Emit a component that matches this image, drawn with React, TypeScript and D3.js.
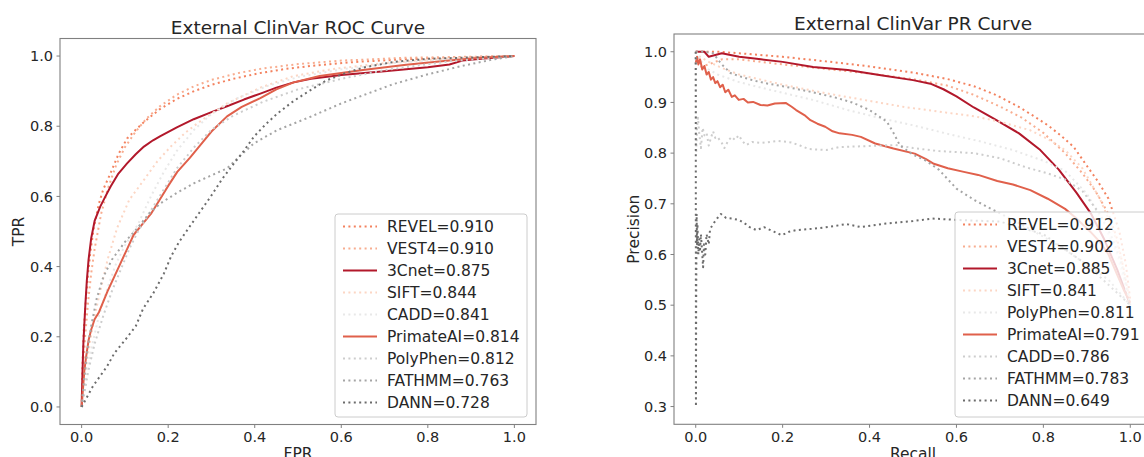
import React from "react";
import * as d3 from "d3";

type Pt = [number, number];

// ---------- ROC data (FPR, TPR) ----------
const rocREVEL: Pt[] = [[0,0],[0.002,0.12],[0.005,0.22],[0.01,0.31],[0.015,0.38],[0.02,0.44],[0.028,0.51],[0.04,0.58],[0.05,0.62],[0.067,0.667],[0.085,0.72],[0.105,0.765],[0.125,0.79],[0.144,0.812],[0.18,0.848],[0.22,0.878],[0.26,0.9],[0.3,0.918],[0.35,0.935],[0.41,0.951],[0.47,0.963],[0.53,0.972],[0.63,0.983],[0.75,0.991],[0.9,0.997],[1,1]];
const rocVEST4: Pt[] = [[0,0],[0.003,0.1],[0.008,0.2],[0.015,0.3],[0.022,0.38],[0.03,0.45],[0.045,0.55],[0.06,0.62],[0.08,0.69],[0.1,0.74],[0.125,0.785],[0.15,0.822],[0.18,0.856],[0.22,0.89],[0.26,0.914],[0.3,0.932],[0.36,0.951],[0.42,0.965],[0.5,0.977],[0.6,0.987],[0.75,0.995],[1,1]];
const roc3Cnet: Pt[] = [[0,0],[0.002,0.1],[0.004,0.18],[0.006,0.23],[0.009,0.3],[0.012,0.36],[0.016,0.42],[0.022,0.48],[0.03,0.53],[0.043,0.571],[0.055,0.6],[0.067,0.628],[0.085,0.665],[0.105,0.694],[0.125,0.72],[0.144,0.742],[0.165,0.76],[0.182,0.772],[0.22,0.797],[0.259,0.82],[0.3,0.84],[0.336,0.857],[0.375,0.876],[0.413,0.893],[0.45,0.91],[0.49,0.925],[0.53,0.935],[0.6,0.946],[0.7,0.957],[0.8,0.968],[0.85,0.976],[0.88,0.987],[0.93,0.993],[1,1]];
const rocSIFT: Pt[] = [[0,0],[0.005,0.06],[0.01,0.11],[0.02,0.19],[0.03,0.26],[0.045,0.34],[0.06,0.42],[0.082,0.51],[0.11,0.59],[0.144,0.647],[0.175,0.7],[0.206,0.742],[0.24,0.782],[0.275,0.815],[0.336,0.865],[0.413,0.91],[0.49,0.943],[0.58,0.963],[0.7,0.98],[0.85,0.993],[1,1]];
const rocCADD: Pt[] = [[0,0],[0.005,0.04],[0.012,0.1],[0.025,0.18],[0.04,0.26],[0.06,0.34],[0.08,0.41],[0.1,0.46],[0.13,0.52],[0.16,0.6],[0.19,0.67],[0.22,0.73],[0.26,0.79],[0.3,0.835],[0.36,0.88],[0.43,0.915],[0.5,0.94],[0.6,0.962],[0.72,0.98],[0.85,0.992],[1,1]];
const rocPrimateAI: Pt[] = [[0,0],[0.003,0.05],[0.006,0.1],[0.01,0.14],[0.016,0.19],[0.022,0.22],[0.03,0.25],[0.04,0.27],[0.05,0.3],[0.06,0.33],[0.075,0.37],[0.09,0.41],[0.105,0.45],[0.12,0.49],[0.14,0.52],[0.16,0.55],[0.18,0.59],[0.2,0.63],[0.221,0.67],[0.25,0.71],[0.28,0.755],[0.3,0.785],[0.336,0.828],[0.37,0.855],[0.413,0.88],[0.45,0.905],[0.49,0.925],[0.55,0.943],[0.65,0.96],[0.75,0.975],[0.85,0.987],[0.92,0.995],[1,1]];
const rocPolyPhen: Pt[] = [[0,0],[0.005,0.03],[0.015,0.1],[0.03,0.18],[0.05,0.26],[0.07,0.33],[0.09,0.39],[0.11,0.45],[0.13,0.5],[0.16,0.56],[0.19,0.62],[0.22,0.68],[0.26,0.74],[0.3,0.79],[0.35,0.83],[0.42,0.87],[0.5,0.905],[0.6,0.935],[0.7,0.96],[0.85,0.985],[1,1]];
const rocFATHMM: Pt[] = [[0,0],[0.005,0.07],[0.012,0.15],[0.022,0.23],[0.035,0.31],[0.05,0.37],[0.07,0.42],[0.1,0.47],[0.129,0.51],[0.155,0.55],[0.182,0.58],[0.22,0.61],[0.259,0.637],[0.3,0.66],[0.336,0.68],[0.37,0.72],[0.398,0.751],[0.452,0.789],[0.529,0.827],[0.6,0.865],[0.65,0.888],[0.72,0.92],[0.8,0.948],[0.88,0.972],[0.95,0.99],[1,1]];
const rocDANN: Pt[] = [[0,0],[0.026,0.059],[0.059,0.116],[0.076,0.154],[0.1,0.19],[0.125,0.23],[0.142,0.28],[0.166,0.325],[0.19,0.38],[0.207,0.43],[0.225,0.47],[0.244,0.504],[0.27,0.55],[0.298,0.599],[0.325,0.65],[0.352,0.694],[0.375,0.73],[0.398,0.77],[0.425,0.805],[0.452,0.836],[0.49,0.872],[0.529,0.903],[0.565,0.93],[0.606,0.95],[0.65,0.967],[0.72,0.983],[0.8,0.992],[1,1]];

const rocNames = ["REVEL", "VEST4", "3Cnet", "SIFT", "CADD", "PrimateAI", "PolyPhen", "FATHMM", "DANN"];
const rocAUC = ["0.910", "0.910", "0.875", "0.844", "0.841", "0.814", "0.812", "0.763", "0.728"];
const rocSeries = [rocREVEL, rocVEST4, roc3Cnet, rocSIFT, rocCADD, rocPrimateAI, rocPolyPhen, rocFATHMM, rocDANN];

// ---------- PR data (Recall, Precision) ----------
const prREVEL: Pt[] = [[0,1],[0.05,1],[0.1,0.997],[0.2,0.99],[0.3,0.981],[0.4,0.971],[0.5,0.959],[0.58,0.946],[0.64,0.932],[0.69,0.915],[0.74,0.893],[0.78,0.872],[0.81,0.855],[0.84,0.835],[0.87,0.812],[0.9,0.775],[0.925,0.745],[0.95,0.71],[0.975,0.645],[0.99,0.58],[1,0.51]];
const prVEST4: Pt[] = [[0,1],[0.01,0.97],[0.03,0.975],[0.06,0.985],[0.1,0.985],[0.2,0.975],[0.3,0.966],[0.4,0.957],[0.5,0.946],[0.58,0.933],[0.64,0.915],[0.7,0.892],[0.75,0.87],[0.8,0.84],[0.85,0.8],[0.89,0.76],[0.92,0.725],[0.95,0.68],[0.97,0.63],[0.985,0.57],[1,0.5]];
const pr3Cnet: Pt[] = [[0,1],[0.02,1],[0.03,0.99],[0.06,0.997],[0.1,0.99],[0.15,0.985],[0.2,0.98],[0.27,0.97],[0.35,0.964],[0.43,0.953],[0.5,0.944],[0.54,0.937],[0.57,0.926],[0.6,0.912],[0.64,0.89],[0.686,0.868],[0.744,0.839],[0.793,0.806],[0.835,0.768],[0.876,0.722],[0.91,0.68],[0.94,0.63],[0.97,0.57],[1,0.5]];
const prSIFT: Pt[] = [[0,1],[0.01,0.99],[0.03,0.98],[0.06,0.968],[0.1,0.955],[0.15,0.945],[0.2,0.935],[0.3,0.918],[0.4,0.903],[0.48,0.891],[0.56,0.882],[0.645,0.872],[0.7,0.862],[0.77,0.845],[0.81,0.828],[0.85,0.806],[0.89,0.77],[0.93,0.71],[0.96,0.65],[0.98,0.59],[1,0.5]];
const prPolyPhen: Pt[] = [[0,1],[0.02,0.97],[0.05,0.955],[0.1,0.94],[0.17,0.925],[0.27,0.905],[0.35,0.885],[0.43,0.868],[0.5,0.855],[0.58,0.838],[0.66,0.822],[0.73,0.806],[0.8,0.785],[0.85,0.765],[0.9,0.72],[0.94,0.66],[0.97,0.6],[1,0.5]];
const prPrimateAI: Pt[] = [[0,0.977],[0.003,0.99],[0.006,0.975],[0.01,0.985],[0.015,0.965],[0.02,0.972],[0.025,0.955],[0.03,0.96],[0.035,0.945],[0.04,0.95],[0.045,0.938],[0.05,0.942],[0.056,0.93],[0.062,0.935],[0.068,0.92],[0.075,0.925],[0.083,0.911],[0.09,0.914],[0.099,0.905],[0.11,0.907],[0.12,0.9],[0.132,0.901],[0.149,0.895],[0.165,0.894],[0.182,0.898],[0.207,0.899],[0.22,0.892],[0.231,0.885],[0.25,0.875],[0.264,0.865],[0.28,0.858],[0.298,0.852],[0.315,0.843],[0.331,0.839],[0.36,0.836],[0.38,0.832],[0.413,0.819],[0.455,0.809],[0.504,0.799],[0.53,0.788],[0.548,0.779],[0.58,0.77],[0.617,0.763],[0.65,0.757],[0.694,0.745],[0.73,0.738],[0.77,0.727],[0.81,0.71],[0.85,0.69],[0.875,0.672],[0.908,0.645],[0.93,0.625],[0.95,0.6],[0.97,0.56],[0.985,0.53],[1,0.505]];
const prCADD: Pt[] = [[0,1],[0.001,0.8],[0.003,0.85],[0.005,0.87],[0.008,0.84],[0.012,0.81],[0.016,0.85],[0.02,0.835],[0.025,0.84],[0.03,0.815],[0.035,0.83],[0.04,0.843],[0.045,0.83],[0.05,0.832],[0.06,0.82],[0.066,0.81],[0.075,0.825],[0.083,0.832],[0.09,0.826],[0.099,0.835],[0.108,0.823],[0.116,0.816],[0.13,0.822],[0.15,0.82],[0.19,0.824],[0.22,0.821],[0.24,0.815],[0.26,0.808],[0.3,0.806],[0.33,0.812],[0.4,0.814],[0.46,0.816],[0.5,0.81],[0.56,0.804],[0.64,0.8],[0.7,0.79],[0.76,0.772],[0.81,0.76],[0.85,0.748],[0.89,0.725],[0.93,0.68],[0.96,0.63],[0.98,0.58],[1,0.5]];
const prFATHMM: Pt[] = [[0,1],[0.02,1],[0.04,0.997],[0.06,0.975],[0.08,0.958],[0.1,0.952],[0.13,0.944],[0.16,0.938],[0.2,0.932],[0.27,0.92],[0.32,0.91],[0.36,0.9],[0.4,0.885],[0.44,0.862],[0.455,0.84],[0.47,0.815],[0.5,0.797],[0.53,0.785],[0.56,0.767],[0.6,0.73],[0.64,0.708],[0.68,0.69],[0.73,0.668],[0.78,0.645],[0.84,0.615],[0.9,0.58],[0.95,0.55],[1,0.5]];
const prDANN: Pt[] = [[0,1],[0.0005,0.3],[0.001,0.5],[0.002,0.68],[0.003,0.62],[0.004,0.66],[0.006,0.6],[0.008,0.63],[0.01,0.61],[0.012,0.64],[0.015,0.6],[0.017,0.575],[0.019,0.62],[0.022,0.6],[0.025,0.64],[0.03,0.62],[0.033,0.65],[0.04,0.66],[0.05,0.672],[0.058,0.68],[0.07,0.672],[0.083,0.671],[0.1,0.668],[0.115,0.66],[0.124,0.654],[0.14,0.648],[0.157,0.654],[0.18,0.645],[0.198,0.638],[0.215,0.645],[0.231,0.648],[0.273,0.651],[0.31,0.655],[0.347,0.66],[0.38,0.654],[0.438,0.661],[0.5,0.666],[0.545,0.671],[0.603,0.668],[0.7,0.665],[0.8,0.64],[0.9,0.58],[1,0.5]];

const prNames = ["REVEL", "VEST4", "3Cnet", "SIFT", "PolyPhen", "PrimateAI", "CADD", "FATHMM", "DANN"];
const prAUC = ["0.912", "0.902", "0.885", "0.841", "0.811", "0.791", "0.786", "0.783", "0.649"];
const prSeries = [prREVEL, prVEST4, pr3Cnet, prSIFT, prPolyPhen, prPrimateAI, prCADD, prFATHMM, prDANN];

// styles by rank
const rankColors = ["#f3825f", "#f8ad90", "#b2182b", "#fcd6c4", "#e8e8e8", "#e0604b", "#cdcdcd", "#a5a5a5", "#6c6c6c"];
const rankDotted = [true, true, false, true, true, false, true, true, true];

const xTicks = [0, 0.2, 0.4, 0.6, 0.8, 1.0];
const rocYTicks = [0, 0.2, 0.4, 0.6, 0.8, 1.0];
const prYTicks = [0.3, 0.4, 0.5, 0.6, 0.7, 0.8, 0.9, 1.0];

const FONT = "'DejaVu Sans', sans-serif";
const SPINE = "#808080";
const TXT = "#262626";

interface PanelProps {
  id: string;
  left: number; right: number; top: number; bottom: number;
  yDomain: [number, number];
  title: string; titleY: number;
  xLabel: string; yLabel: string; yLabelX: number;
  yTicks: number[];
  series: Pt[][];
  names: string[]; aucs: string[];
  legend: { x: number; y: number; w: number; h: number };
}

function Panel(p: PanelProps) {
  const x = d3.scaleLinear().domain([-0.05, 1.05]).range([p.left, p.right]);
  const y = d3.scaleLinear().domain(p.yDomain).range([p.bottom, p.top]);
  const line = d3.line<Pt>().x((d) => x(d[0])).y((d) => y(d[1]));
  const cx = (p.left + p.right) / 2;
  const cy = (p.top + p.bottom) / 2;
  const L = p.legend;
  return (
    <g>
      <defs>
        <clipPath id={p.id}>
          <rect x={p.left} y={p.top} width={p.right - p.left} height={p.bottom - p.top} />
        </clipPath>
      </defs>
      <g clipPath={`url(#${p.id})`}>
        {p.series.map((s, i) => (
          <path key={i} d={line(s) || ""} fill="none" stroke={rankColors[i]} strokeWidth={2}
            strokeDasharray={rankDotted[i] ? "2,3.4" : undefined} strokeLinejoin="round" />
        ))}
      </g>
      <rect x={p.left} y={p.top} width={p.right - p.left} height={p.bottom - p.top} fill="none" stroke={SPINE} strokeWidth={1.1} />
      {xTicks.map((t) => (
        <g key={"x" + t}>
          <line x1={x(t)} x2={x(t)} y1={p.bottom} y2={p.bottom + 3.5} stroke={SPINE} />
          <text x={x(t)} y={p.bottom + 17.5} textAnchor="middle" fontSize={14.5} fill={TXT} fontFamily={FONT}>{t.toFixed(1)}</text>
        </g>
      ))}
      {p.yTicks.map((t) => (
        <g key={"y" + t}>
          <line x1={p.left - 3.5} x2={p.left} y1={y(t)} y2={y(t)} stroke={SPINE} />
          <text x={p.left - 7} y={y(t) + 5.2} textAnchor="end" fontSize={14.5} fill={TXT} fontFamily={FONT}>{t.toFixed(1)}</text>
        </g>
      ))}
      <text x={cx} y={p.titleY} textAnchor="middle" fontSize={18.5} fill={TXT} fontFamily={FONT}>{p.title}</text>
      <text x={cx} y={458.5} textAnchor="middle" fontSize={15.5} fill={TXT} fontFamily={FONT}>{p.xLabel}</text>
      <text transform={`translate(${p.yLabelX},${cy}) rotate(-90)`} textAnchor="middle" fontSize={15.5} fill={TXT} fontFamily={FONT}>{p.yLabel}</text>
      <rect x={L.x} y={L.y} width={L.w} height={L.h} rx={3} fill="white" fillOpacity={0.8} stroke="#cccccc" strokeWidth={1} />
      {p.names.map((n, i) => {
        const ry = L.y + 12.5 + i * 22;
        return (
          <g key={n}>
            <line x1={L.x + 8} x2={L.x + 42} y1={ry} y2={ry} stroke={rankColors[i]} strokeWidth={2}
              strokeDasharray={rankDotted[i] ? "2,3.4" : undefined} />
            <text x={L.x + 52} y={ry + 5.5} fontSize={15.5} fill={TXT} fontFamily={FONT}>{`${n}=${p.aucs[i]}`}</text>
          </g>
        );
      })}
    </g>
  );
}

export default function App() {
  return (
    <svg width={1144} height={457} style={{ position: "absolute", left: 0, top: 0, background: "white" }}>
      <rect x={0} y={0} width={1144} height={457} fill="white" />
      <Panel id="rocclip" left={60} right={536} top={38.5} bottom={424.5} yDomain={[-0.05, 1.05]}
        title="External ClinVar ROC Curve" titleY={34} xLabel="FPR" yLabel="TPR" yLabelX={24}
        yTicks={rocYTicks} series={rocSeries} names={rocNames} aucs={rocAUC}
        legend={{ x: 335, y: 214, w: 192, h: 203 }} />
      <Panel id="prclip" left={674} right={1152} top={34} bottom={424.3} yDomain={[0.265, 1.035]}
        title="External ClinVar PR Curve" titleY={30} xLabel="Recall" yLabel="Precision" yLabelX={639}
        yTicks={prYTicks} series={prSeries} names={prNames} aucs={prAUC}
        legend={{ x: 955, y: 212, w: 192, h: 205 }} />
    </svg>
  );
}
